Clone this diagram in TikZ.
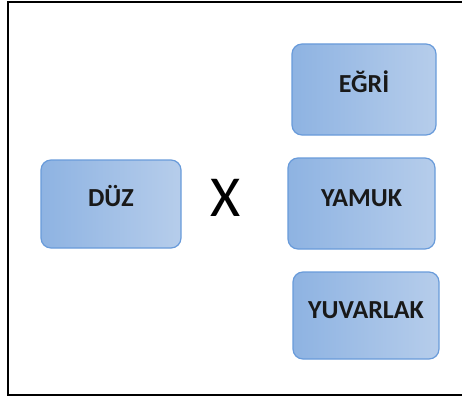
\documentclass[tikz,border=0pt]{standalone}
\usepackage{fontspec}
\setmainfont{Carlito}
\definecolor{boxleft}{RGB}{142,179,226}
\definecolor{boxright}{RGB}{182,205,235}
\definecolor{boxedge}{RGB}{105,155,218}
\begin{document}
\begin{tikzpicture}[x=1pt,y=-1pt,inner sep=0pt,outer sep=0pt,
shapebox/.style={draw=boxedge,line width=1.2pt,rounded corners=10pt,left color=boxleft,right color=boxright,
  font=\fontsize{26}{30}\selectfont\bfseries,text=black!90,text height=17pt,text depth=12pt}]

\useasboundingbox (0,0) rectangle (462,396);
\draw[line width=1.5pt] (463,2) -- (8,2) -- (8,395) -- (463,395);

\draw (111,204) node[shapebox,minimum width=140pt,minimum height=88pt] (duz) {DÜZ};
\draw (226,198) node[font=\fontsize{58}{60}\selectfont] (carpi) {X};
\draw (364,89.5) node[shapebox,minimum width=144pt,minimum height=91pt] (egri) {EĞRİ};
\draw (361.5,203.5) node[shapebox,minimum width=147pt,minimum height=91pt] (yamuk) {YAMUK};
\draw (366,315.5) node[shapebox,minimum width=146pt,minimum height=87pt] (yuvarlak) {YUVARLAK};

\end{tikzpicture}
\end{document}
